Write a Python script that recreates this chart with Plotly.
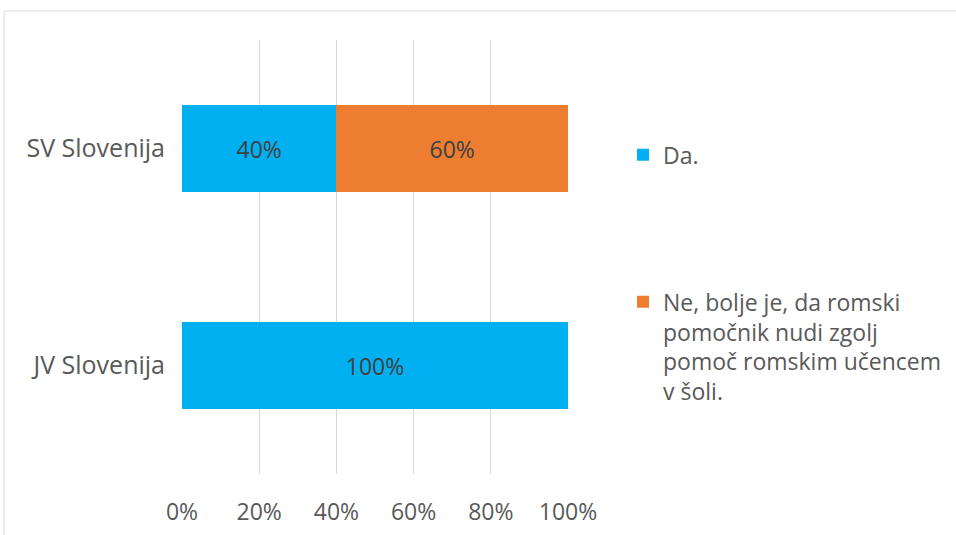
import plotly.graph_objects as go

categories = ["JV Slovenija", "SV Slovenija"]
da_values = [100, 40]
ne_values = [None, 60]
series_names = ["Da.", "Ne, bolje je, da romski<br>pomočnik nudi zgolj<br>pomoč romskim učencem<br>v šoli."]
tick_vals = [0, 20, 40, 60, 80, 100]
tick_text = ["0%", "20%", "40%", "60%", "80%", "100%"]


def labels(vals):
    return [f"{v}%" if v is not None else "" for v in vals]


FONT = "Open Sans"
GREY = "#595959"
fig = go.Figure()
fig.add_trace(go.Bar(
    y=categories, x=da_values, name=series_names[0], orientation="h",
    marker=dict(color="#00B0F0", line=dict(width=0)),
    text=labels(da_values), texttemplate="%{text}", textposition="inside",
    insidetextanchor="middle",
    textfont=dict(color="#404040", size=23, family=FONT), legendgroup="a",
))
fig.add_trace(go.Bar(
    y=categories, x=ne_values, name=series_names[1], orientation="h",
    marker=dict(color="#ED7D31", line=dict(width=0)),
    text=labels(ne_values), texttemplate="%{text}", textposition="inside",
    insidetextanchor="middle",
    textfont=dict(color="#404040", size=23, family=FONT), legendgroup="b",
))

fig.update_layout(
    width=956, height=535,
    margin=dict(l=182, r=388, t=40, b=61, autoexpand=False),
    paper_bgcolor="white", plot_bgcolor="white",
    barmode="stack", bargap=0.6,
    font=dict(family=FONT, color=GREY, size=23),
    xaxis=dict(range=[0, 100], tickvals=tick_vals, ticktext=tick_text,
               showgrid=True, gridcolor="#d9d9d9", gridwidth=1, zeroline=False,
               showline=False, ticks="", ticklabelstandoff=22,
               tickfont=dict(size=23, color=GREY, family=FONT)),
    yaxis=dict(showgrid=False, zeroline=False, showline=False, ticks="",
               ticklabelstandoff=16,
               tickfont=dict(size=25, color=GREY, family=FONT)),
    legend=dict(x=1.1425, y=0.785, xanchor="left", yanchor="top",
                traceorder="grouped", tracegroupgap=114, valign="top",
                font=dict(size=23, color=GREY, family=FONT),
                itemwidth=30, bgcolor="rgba(0,0,0,0)"),
    showlegend=True,
    shapes=[dict(type="rect", xref="paper", yref="paper",
                 x0=-0.461, x1=3, y0=-0.5, y1=1.0668,
                 line=dict(color="#d9d9d9", width=1), fillcolor="rgba(0,0,0,0)",
                 layer="below")],
)
fig.write_html("out.html", config={"displayModeBar": False},
               post_script="document.body.style.margin='0px';")
